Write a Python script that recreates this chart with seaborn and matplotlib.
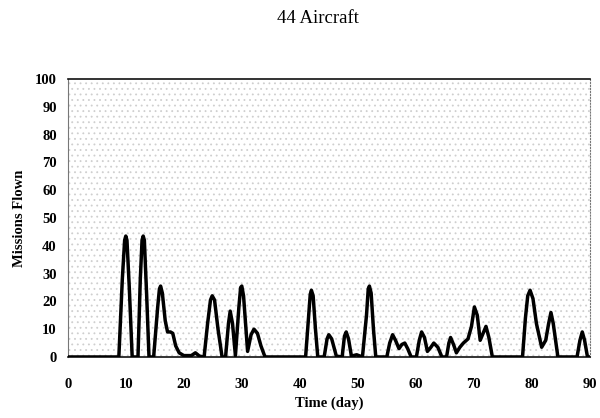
import pandas as pd
import matplotlib.pyplot as plt
import seaborn as sns

# days and missions flown
dias = [0, 8.8, 9.4, 9.8, 10.0, 10.2, 10.6, 11.1, 12.1, 12.5, 12.8, 13.0, 13.2, 13.6, 14.0,
        14.8, 15.5, 15.8, 16.0, 16.3, 16.8, 17.2, 17.7, 18.1, 18.6, 19.2, 20.0, 21.3, 22.0, 22.7,
        23.5, 24.1, 24.6, 24.9, 25.3, 25.9, 26.6, 27.2, 27.7, 28.0, 28.4, 28.9, 29.5, 29.8, 30.0,
        30.3, 31.0, 31.6, 32.1, 32.7, 33.3, 34.0, 41.0, 41.5, 41.8, 42.0, 42.3, 42.7, 43.1,
        44.2, 44.7, 45.0, 45.5, 46.3, 47.3, 47.7, 48.0, 48.4, 48.9, 49.8, 50.8, 51.5, 51.8, 52.0,
        52.3, 52.7, 53.1, 55.0, 55.5, 56.0, 56.5, 57.1, 57.6, 58.1, 58.6, 59.2, 60.1, 60.6, 61.0,
        61.5, 62.0, 62.6, 63.1, 63.8, 64.5, 65.3, 65.7, 66.0, 66.5, 67.0, 67.6, 68.2, 69.0, 69.6,
        70.1, 70.6, 71.1, 71.6, 72.1, 72.6, 73.2, 78.4, 78.9, 79.3, 79.7, 80.2, 80.8, 81.7, 82.4,
        82.9, 83.3, 83.7, 84.5, 87.8, 88.3, 88.7, 89.1, 89.6, 90.0]
missoes = [0, 0, 28, 42, 43.5, 42, 25, 0, 0, 28, 42, 43.5, 42, 22, 0,
           0, 18, 24.5, 25.5, 23, 13, 9, 9, 8.5, 4, 1.5, 0.5, 0.5, 1.5, 0.3,
           0, 12, 20.5, 22, 20.5, 10, 0, 0, 12, 16.5, 12, 0.5, 18, 25, 25.5,
           22, 2, 8, 10, 8.5, 4, 0, 0, 14, 22.5, 24, 22, 10, 0,
           0, 6.5, 8, 6.5, 0.3, 0, 7.5, 9, 6.5, 0.3, 0.8, 0, 15, 24.5, 25.5,
           23, 10, 0, 0, 5, 8, 6, 3, 4.5, 5, 3, 0, 0, 6, 9,
           7, 2, 3.5, 5, 3.5, 0, 0, 5, 7, 4.5, 1.5, 3.5, 5, 6.5, 11,
           18, 15, 6, 8.5, 11, 7, 0, 0, 14, 22, 24, 21, 12, 3.5, 6,
           12, 16, 12, 0, 0, 6, 9, 6, 0, 0]

fundo_x = [0, 90]
fundo_topo = [100, 100]

xticks = list(range(0, 100, 10))
yticks = list(range(0, 110, 10))


def main():
    df = pd.DataFrame({"dia": dias, "missoes": missoes})

    sns.set_style("white")
    plt.rcParams["font.family"] = ["Liberation Serif", "DejaVu Serif"]
    plt.rcParams["text.color"] = "black"
    plt.rcParams["xtick.color"] = "black"
    plt.rcParams["ytick.color"] = "black"
    plt.rcParams["axes.labelcolor"] = "black"
    plt.rcParams["hatch.linewidth"] = 0.6

    fig = plt.figure(figsize=(6, 4.18), dpi=100)
    ax = fig.add_axes([0.113, 0.146, 0.870, 0.665])

    # stippled background of the scan
    ax.fill_between(fundo_x, 0, fundo_topo, facecolor="white", edgecolor="#cfcfcf",
                    hatch="...", linewidth=0, zorder=0)

    sns.lineplot(data=df, x="dia", y="missoes", color="black", linewidth=2.5, ax=ax,
                 zorder=3)

    ax.set_xlim(0, 90)
    ax.set_ylim(0, 100)
    ax.set_xticks(xticks)
    ax.set_yticks(yticks)
    ax.tick_params(axis="x", direction="out", length=3, width=0.8, pad=12, labelsize=10.5)
    ax.tick_params(axis="y", direction="in", length=3, width=0.8, pad=8, labelsize=10.5)
    for lab in ax.get_xticklabels() + ax.get_yticklabels():
        lab.set_fontweight("bold")

    ax.set_xlabel("Time (day)", fontsize=10.5, fontweight="bold", labelpad=4)
    ax.set_ylabel("Missions Flown", fontsize=10.5, fontweight="bold", labelpad=6)

    for lado in ["top", "bottom"]:
        ax.spines[lado].set_color("#111111")
        ax.spines[lado].set_linewidth(1.2)
    for lado in ["left", "right"]:
        ax.spines[lado].set_color("#777777")
        ax.spines[lado].set_linewidth(0.8)
    ax.spines["right"].set_linestyle(":")

    fig.text(0.53, 0.955, "44 Aircraft", ha="center", va="center", fontsize=13.5,
             color="black")

    fig.savefig("out.png", dpi=100)
    plt.close(fig)


if __name__ == "__main__":
    main()
